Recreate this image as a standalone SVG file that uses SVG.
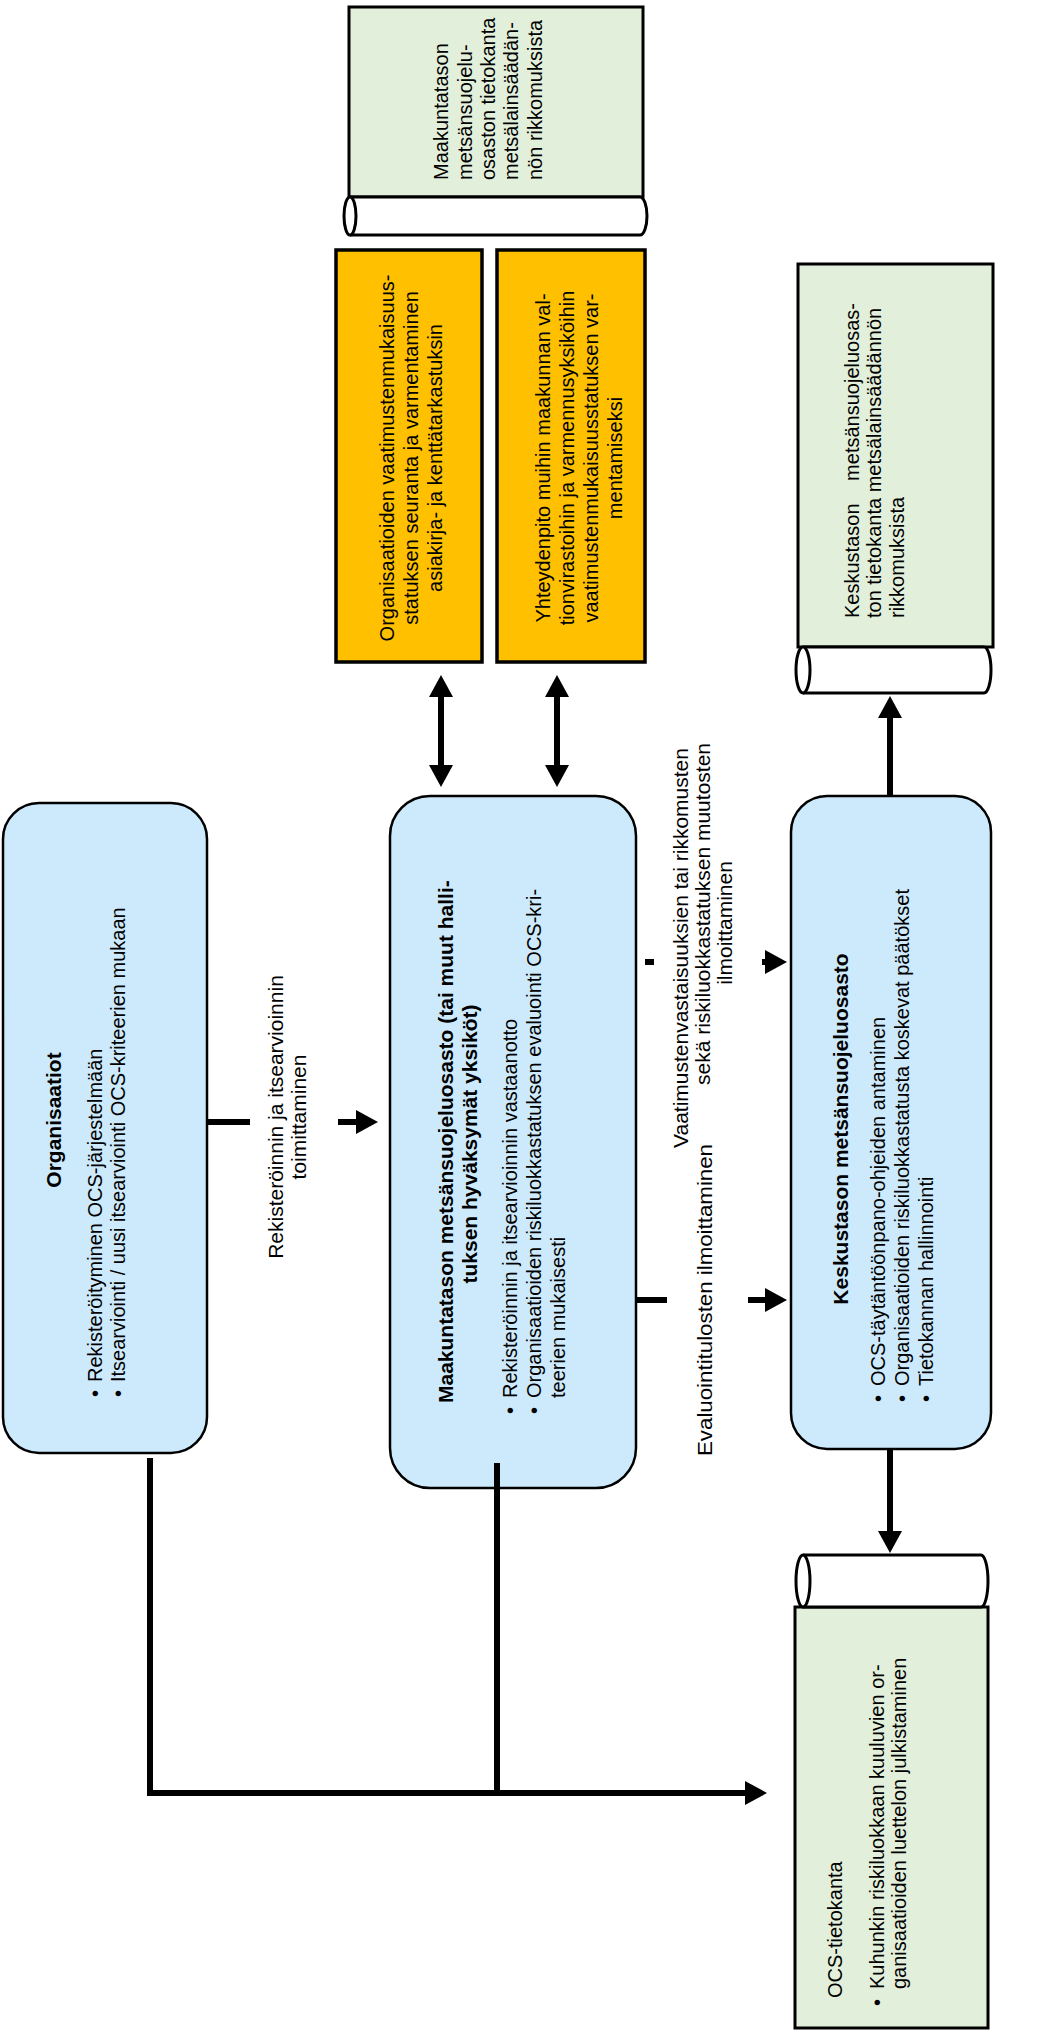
<svg xmlns="http://www.w3.org/2000/svg" width="1037" height="2032" viewBox="0 0 1037 2032">
<defs>
<style>
.t{font-family:"Liberation Sans",Arial,sans-serif;font-size:20px;fill:#000}
.tl{font-family:"Liberation Sans",Arial,sans-serif;font-size:21px;fill:#000}
.tb{font-family:"Liberation Sans",Arial,sans-serif;font-size:21px;font-weight:bold;fill:#000}
.blue{fill:#cdeafc;stroke:#000;stroke-width:2.5}
.orange{fill:#ffc000;stroke:#000;stroke-width:3.5}
.green{fill:#e2efda;stroke:#000;stroke-width:3}
.tube{fill:#fff;stroke:#000;stroke-width:3}
.c{fill:none;stroke:#000;stroke-width:6}
</style>
<marker id="ah" markerUnits="userSpaceOnUse" markerWidth="22" markerHeight="24" viewBox="0 0 22 24" refX="1" refY="12" orient="auto-start-reverse">
<path d="M0,0 L22,12 L0,24 z" fill="#000"/>
</marker>
</defs>
<rect width="1037" height="2032" fill="#fff"/>

<g id="maakunta-db">
<rect class="green" x="349" y="7" width="294" height="190"/>
<path class="tube" d="M350,197 H640 A7,19 0 0 1 640,235 H350"/>
<ellipse class="tube" cx="350" cy="216" rx="6" ry="19"/>
<g transform="translate(0,180) rotate(-90)">
<text class="t" x="0" y="448">Maakuntatason</text>
<text class="t" x="0" y="472">metsänsuojelu-</text>
<text class="t" x="0" y="495">osaston tietokanta</text>
<text class="t" x="0" y="518">metsälainsäädän-</text>
<text class="t" x="0" y="542">nön rikkomuksista</text>
</g>
</g>

<g id="seuranta">
<rect class="orange" x="336" y="250" width="146" height="412"/>
<g transform="translate(0,458) rotate(-90)" text-anchor="middle">
<text class="t" x="0" y="394">Organisaatioiden vaatimustenmukaisuus-</text>
<text class="t" x="0" y="418">statuksen seuranta ja varmentaminen</text>
<text class="t" x="0" y="442">asiakirja- ja kenttätarkastuksin</text>
</g>
</g>

<g id="yhteydenpito">
<rect class="orange" x="497" y="250" width="148" height="412"/>
<g transform="translate(0,458) rotate(-90)" text-anchor="middle">
<text class="t" x="0" y="550">Yhteydenpito muihin maakunnan val-</text>
<text class="t" x="0" y="574">tionvirastoihin ja varmennusyksiköihin</text>
<text class="t" x="0" y="598">vaatimustenmukaisuusstatuksen var-</text>
<text class="t" x="0" y="622">mentamiseksi</text>
</g>
</g>

<g id="keskus-db">
<rect class="green" x="798" y="264" width="195" height="383"/>
<path class="tube" d="M803,647 H984 A7,23 0 0 1 984,693 H803"/>
<ellipse class="tube" cx="803" cy="670" rx="7" ry="23"/>
<g transform="translate(0,618) rotate(-90)">
<text class="t" x="0" y="859">Keskustason</text>
<text class="t" x="315" y="859" text-anchor="end">metsänsuojeluosas-</text>
<text class="t" x="0" y="881">ton tietokanta metsälainsäädännön</text>
<text class="t" x="0" y="904">rikkomuksista</text>
</g>
</g>

<g id="organisaatiot">
<rect class="blue" x="3" y="803" width="204" height="650" rx="36"/>
<g transform="translate(0,1397) rotate(-90)">
<text class="tb" x="277" y="61" text-anchor="middle">Organisaatiot</text>
<text class="t" y="102"><tspan x="0">•</tspan><tspan x="15">Rekisteröityminen OCS-järjestelmään</tspan></text>
<text class="t" y="125"><tspan x="0">•</tspan><tspan x="15">Itsearviointi / uusi itsearviointi OCS-kriteerien mukaan</tspan></text>
</g>
</g>

<g id="maakunta">
<rect class="blue" x="390" y="796" width="246" height="692" rx="40"/>
<g transform="translate(0,1414) rotate(-90)">
<text class="tb" x="11" y="453">Maakuntatason metsänsuojeluosasto (tai muut halli-</text>
<text class="tb" x="270" y="477" text-anchor="middle">tuksen hyväksymät yksiköt)</text>
<text class="t" y="517"><tspan x="0">•</tspan><tspan x="16">Rekisteröinnin ja itsearvioinnin vastaanotto</tspan></text>
<text class="t" y="541"><tspan x="0">•</tspan><tspan x="16">Organisaatioiden riskiluokkastatuksen evaluointi OCS-kri-</tspan></text>
<text class="t" y="565"><tspan x="16">teerien mukaisesti</tspan></text>
</g>
</g>

<g id="keskus">
<rect class="blue" x="791" y="796" width="200" height="653" rx="36"/>
<g transform="translate(0,1402) rotate(-90)">
<text class="tb" x="273" y="848" text-anchor="middle">Keskustason metsänsuojeluosasto</text>
<text class="t" y="885"><tspan x="0">•</tspan><tspan x="16">OCS-täytäntöönpano-ohjeiden antaminen</tspan></text>
<text class="t" y="909"><tspan x="0">•</tspan><tspan x="16">Organisaatioiden riskiluokkastatusta koskevat päätökset</tspan></text>
<text class="t" y="933"><tspan x="0">•</tspan><tspan x="16">Tietokannan hallinnointi</tspan></text>
</g>
</g>

<g id="ocs-db">
<rect class="green" x="795" y="1607" width="193" height="421"/>
<path class="tube" d="M803,1555 H981 A7,26 0 0 1 981,1607 H803"/>
<ellipse class="tube" cx="803" cy="1581" rx="7" ry="26"/>
<g transform="translate(0,2006) rotate(-90)">
<text class="t" x="8" y="842">OCS-tietokanta</text>
<text class="t" y="884"><tspan x="0">•</tspan><tspan x="17">Kuhunkin riskiluokkaan kuuluvien or-</tspan></text>
<text class="t" y="906"><tspan x="17">ganisaatioiden luettelon julkistaminen</tspan></text>
</g>
</g>

<g id="connectors">
<line class="c" x1="207" y1="1122" x2="250" y2="1122"/>
<line class="c" x1="338" y1="1122" x2="357" y2="1122" marker-end="url(#ah)"/>
<line class="c" x1="636" y1="1300" x2="667" y2="1300"/>
<line class="c" x1="748" y1="1300" x2="766" y2="1300" marker-end="url(#ah)"/>
<line class="c" x1="645" y1="962" x2="654" y2="962"/>
<line class="c" x1="762" y1="962" x2="766" y2="962" marker-end="url(#ah)"/>
<line class="c" x1="441" y1="696" x2="441" y2="766" marker-start="url(#ah)" marker-end="url(#ah)"/>
<line class="c" x1="557" y1="696" x2="557" y2="766" marker-start="url(#ah)" marker-end="url(#ah)"/>
<line class="c" x1="890" y1="796" x2="890" y2="717" marker-end="url(#ah)"/>
<line class="c" x1="890" y1="1449" x2="890" y2="1532" marker-end="url(#ah)"/>
<polyline class="c" points="150,1458 150,1793 746,1793" marker-end="url(#ah)"/>
<line class="c" x1="497" y1="1463" x2="497" y2="1796"/>
<g transform="translate(0,1117) rotate(-90)" text-anchor="middle">
<text class="tl" x="0" y="283">Rekisteröinnin ja itsearvioinnin</text>
<text class="tl" x="0" y="306">toimittaminen</text>
</g>
<g transform="rotate(-90)" text-anchor="middle">
<text class="tl" x="-948" y="688">Vaatimustenvastaisuuksien tai rikkomusten</text>
<text class="tl" x="-914" y="710">sekä riskiluokkastatuksen muutosten</text>
<text class="tl" x="-923" y="732">ilmoittaminen</text>
</g>
<g transform="translate(0,1300) rotate(-90)" text-anchor="middle">
<text class="tl" x="0" y="712" textLength="312" lengthAdjust="spacingAndGlyphs">Evaluointitulosten ilmoittaminen</text>
</g>
</g>
</svg>
